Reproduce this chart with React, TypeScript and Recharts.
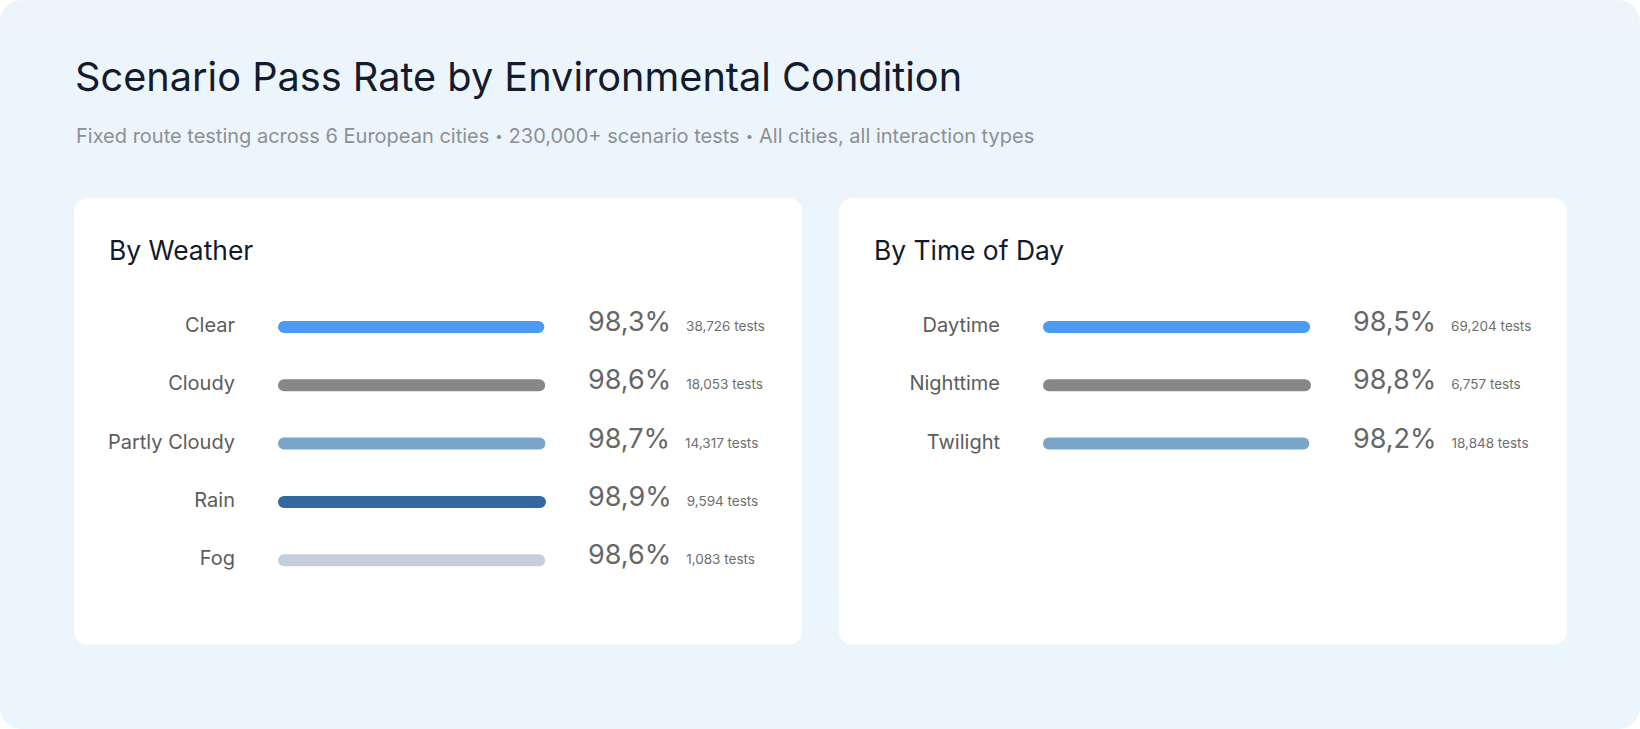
import React from 'react';
import { BarChart, Bar, XAxis, YAxis, Cell, LabelList } from 'recharts';

const weatherCategories = ['Clear', 'Cloudy', 'Partly Cloudy', 'Rain', 'Fog'];
const weatherPassRates = [98.3, 98.6, 98.7, 98.9, 98.6];
const weatherTestCounts = [38726, 18053, 14317, 9594, 1083];
const weatherColors = ['#4b9bf5', '#878787', '#7ba5c8', '#33679f', '#c5cfd9'];

const timeCategories = ['Daytime', 'Nighttime', 'Twilight'];
const timePassRates = [98.5, 98.8, 98.2];
const timeTestCounts = [69204, 6757, 18848];
const timeColors = ['#4b9bf5', '#878787', '#7ba5c8'];

const subtitleParts = [
  'Fixed route testing across 6 European cities',
  '230,000+ scenario tests',
  'All cities, all interaction types',
];

const FONT = 'Inter, "Noto Sans", sans-serif';

type Row = { name: string; rate: number; tests: number; color: string };

const buildRows = (cats: string[], rates: number[], tests: number[], colors: string[]): Row[] =>
  cats.map((name, i) => ({ name, rate: rates[i], tests: tests[i], color: colors[i] }));

const weatherRows = buildRows(weatherCategories, weatherPassRates, weatherTestCounts, weatherColors);
const timeRows = buildRows(timeCategories, timePassRates, timeTestCounts, timeColors);

const fmtRate = (v: number) => v.toFixed(1).replace('.', ',') + '%';
const fmtTests = (v: number) => v.toLocaleString('en-US') + ' tests';

const CategoryTick = (props: any) => {
  const { x, y, payload } = props;
  return (
    <text x={x} y={y + 5} textAnchor="end" fontFamily={FONT} fontSize={20} fill="#5c5c5c">
      {payload.value}
    </text>
  );
};

const makeValueLabel = (rows: Row[]) => (props: any) => {
  const { x, y, height, index } = props;
  const row = rows[index];
  if (!row) return null;
  return (
    <text x={x + 310} y={y + height / 2 + 4} fontFamily={FONT} fill="#666666">
      <tspan fontSize={27}>{fmtRate(row.rate)}</tspan>
      <tspan dx={15} fontSize={13.5} fill="#6e6e6e">{fmtTests(row.tests)}</tspan>
    </text>
  );
};

const BAND = 58.3;
const TOP = 100;

function Panel({ title, rows, left }: { title: string; rows: Row[]; left: number }) {
  const height = TOP + rows.length * BAND;
  return (
    <div
      style={{
        position: 'absolute',
        left,
        top: 198,
        width: 728,
        height: 447,
        background: '#ffffff',
        borderRadius: 14,
        overflow: 'hidden',
      }}
    >
      <div
        style={{
          position: 'absolute',
          left: 35,
          top: 36,
          fontFamily: FONT,
          fontSize: 26.4,
          lineHeight: '32px',
          color: '#131a2a',
          fontWeight: 400,
          whiteSpace: 'nowrap',
        }}
      >
        {title}
      </div>
      <div style={{ position: 'absolute', left: 0, top: 0 }}>
        <BarChart
          width={728}
          height={height}
          data={rows}
          layout="vertical"
          margin={{ top: TOP, right: 256, bottom: 0, left: 0 }}
        >
          <XAxis type="number" dataKey="rate" domain={[0, 'dataMax']} hide />
          <YAxis
            type="category"
            dataKey="name"
            width={204}
            axisLine={false}
            tickLine={false}
            tickSize={0}
            tickMargin={43}
            tick={<CategoryTick />}
            interval={0}
          />
          <Bar dataKey="rate" barSize={12} radius={6} isAnimationActive={false}>
            {rows.map((r) => (
              <Cell key={r.name} fill={r.color} />
            ))}
            <LabelList dataKey="rate" content={makeValueLabel(rows)} />
          </Bar>
        </BarChart>
      </div>
    </div>
  );
}

export default function App() {
  return (
    <div
      style={{
        position: 'absolute',
        left: 0,
        top: 0,
        width: 1640,
        height: 729,
        background: '#ffffff',
      }}
    >
      <div
        style={{
          position: 'absolute',
          left: 0,
          top: 0,
          width: 1640,
          height: 729,
          borderRadius: 22,
          background: 'linear-gradient(180deg, #edf5fb 0%, #ebf5fc 100%)',
          overflow: 'hidden',
        }}
      >
        <div
          style={{
            position: 'absolute',
            left: 75,
            top: 54,
            fontFamily: FONT,
            fontSize: 39.7,
            lineHeight: '46px',
            color: '#141b2d',
            whiteSpace: 'nowrap',
            letterSpacing: 0,
          }}
        >
          Scenario Pass Rate by Environmental Condition
        </div>
        <div
          style={{
            position: 'absolute',
            left: 76,
            top: 123,
            fontFamily: FONT,
            fontSize: 20,
            lineHeight: '26px',
            color: '#8b9096',
            whiteSpace: 'nowrap',
          }}
        >
          {subtitleParts.map((p, i) => (
            <React.Fragment key={p}>
              {i > 0 && (
                <span style={{ fontSize: 13, margin: '0 6px', position: 'relative', top: -2 }}>•</span>
              )}
              {p}
            </React.Fragment>
          ))}
        </div>
        <Panel title="By Weather" rows={weatherRows} left={74} />
        <Panel title="By Time of Day" rows={timeRows} left={839} />
      </div>
    </div>
  );
}
